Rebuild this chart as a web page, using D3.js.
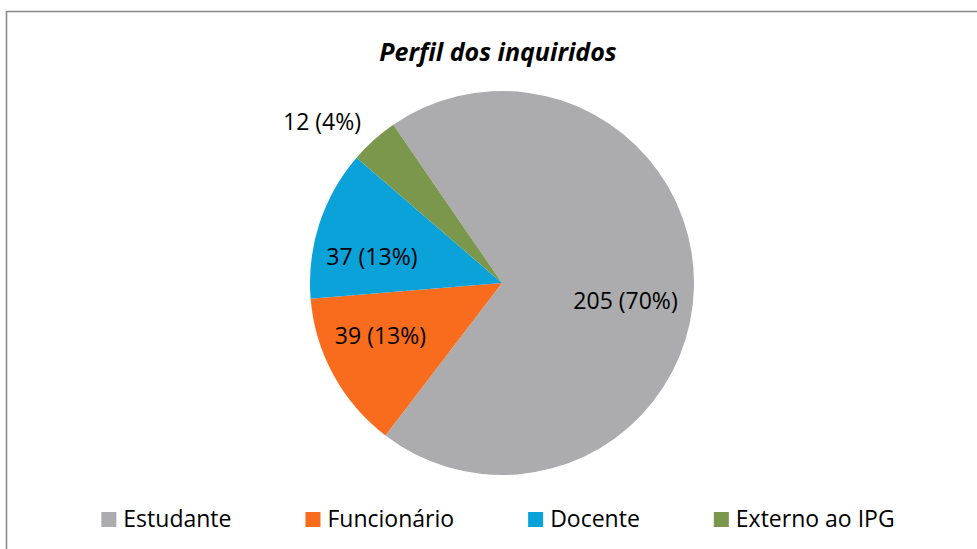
<!DOCTYPE html>
<html>
<head>
<meta charset="utf-8">
<script src="https://cdn.jsdelivr.net/npm/d3@7"></script>
<style>
  body { margin: 0; background: #fff; }
  text { font-family: 'Open Sans', sans-serif; fill: #000; }
</style>
</head>
<body>
<div id="chart"></div>
<script>
const categories = ['Estudante', 'Funcionário', 'Docente', 'Externo ao IPG']
const values = [205, 39, 37, 12]
const labels = ['205 (70%)', '39 (13%)', '37 (13%)', '12 (4%)']
const colors = ['#ACACAE', '#F96C1D', '#0AA2D9', '#7B974B']

const width = 977
const height = 549
const radius = 192
const cx = 502
const cy = 283

const svg = d3
  .select('#chart')
  .append('svg')
  .attr('width', width)
  .attr('height', height)

// chart frame, cut off at right and bottom like the original
svg
  .append('rect')
  .attr('x', 6.5)
  .attr('y', 11.5)
  .attr('width', 990)
  .attr('height', 560)
  .attr('fill', '#fff')
  .attr('stroke', '#878787')
  .attr('stroke-width', 1.5)

svg
  .append('text')
  .attr('x', 498)
  .attr('y', 61)
  .attr('text-anchor', 'middle')
  .attr('font-size', 25)
  .attr('font-weight', 'bold')
  .attr('font-style', 'italic')
  .text('Perfil dos inquiridos')

const colorScale = d3.scaleOrdinal().domain(categories).range(colors)

const startAngle = (-34.5 * Math.PI) / 180
const pie = d3
  .pie()
  .sort(null)
  .value(d => d.value)
  .startAngle(startAngle)
  .endAngle(startAngle + 2 * Math.PI)

const data = categories.map((c, i) => ({ key: c, value: values[i], label: labels[i] }))
const arcs = pie(data)

const arc = d3.arc().innerRadius(0).outerRadius(radius)
const labelArc = d3.arc().innerRadius(radius * 0.68).outerRadius(radius * 0.68)
const outerArc = d3.arc().innerRadius(radius * 1.1).outerRadius(radius * 1.1)

const isSmall = d => d.endAngle - d.startAngle < 0.3

// excel's "best fit" shifts some labels a little off the centroid
const nudge = {
  Estudante: [-7, 15],
  Funcionário: [-7, -10],
  Docente: [-6, 14],
  'Externo ao IPG': [0, 0]
}

const g = svg.append('g').attr('transform', 'translate(' + cx + ',' + cy + ')')

g.selectAll('path')
  .data(arcs)
  .enter()
  .append('path')
  .attr('d', arc)
  .attr('fill', d => colorScale(d.data.key))

g.selectAll('.slice-label')
  .data(arcs)
  .enter()
  .append('text')
  .attr('class', 'slice-label')
  .attr('font-size', 23)
  .attr('transform', d => {
    const p = isSmall(d) ? outerArc.centroid(d) : labelArc.centroid(d)
    const n = nudge[d.data.key]
    return 'translate(' + (p[0] + n[0]) + ',' + (p[1] + n[1]) + ')'
  })
  .attr('text-anchor', d => (isSmall(d) ? 'end' : 'middle'))
  .attr('dy', d => (isSmall(d) ? 4 : 8))
  .text(d => d.data.label)

// legend
const legend = svg.append('g').attr('class', 'legend')
const items = legend
  .selectAll('g')
  .data(categories)
  .enter()
  .append('g')

items
  .append('rect')
  .attr('width', 15)
  .attr('height', 15)
  .attr('y', -15)
  .attr('fill', d => colorScale(d))

items
  .append('text')
  .attr('x', 22)
  .attr('font-size', 23)
  .text(d => d)

let xPos = 0
items.each(function() {
  const w = d3.select(this).select('text').node().getComputedTextLength()
  d3.select(this).attr('transform', 'translate(' + xPos + ',0)')
  xPos += 22 + w + 74
})
const total = xPos - 74
legend.attr('transform', 'translate(' + (498 - total / 2) + ',527)')
</script>
</body>
</html>
